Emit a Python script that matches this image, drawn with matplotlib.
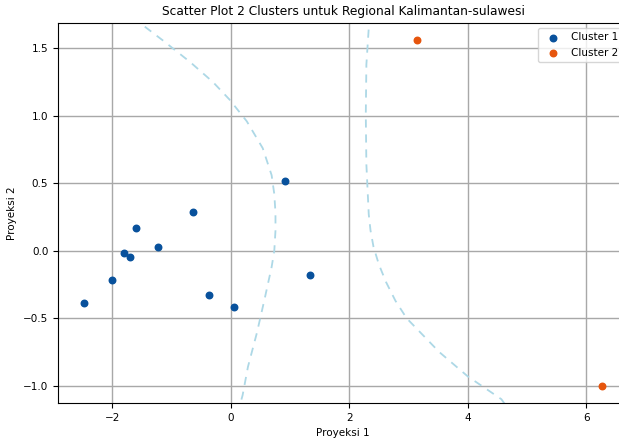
import numpy as np
import matplotlib
matplotlib.use('Agg')
from matplotlib import pyplot as plt

# titik hasil proyeksi tiap cluster
c1_x = [-2.48, -2.00, -1.80, -1.70, -1.60, -1.23, -0.64, -0.37, 0.05, 0.91, 1.33]
c1_y = [-0.39, -0.22, -0.015, -0.045, 0.17, 0.03, 0.29, -0.33, -0.42, 0.52, -0.18]
c2_x = [3.14, 6.27]
c2_y = [1.56, -1.00]

# garis batas
bl_x = [-1.60, -1.48, -1.15, -0.69, -0.30, -0.02, 0.27, 0.54, 0.69, 0.735, 0.755, 0.755, 0.735, 0.69, 0.57, 0.44, 0.29, 0.20, 0.15]
bl_y = [1.75, 1.67, 1.56, 1.40, 1.25, 1.12, 0.96, 0.76, 0.56, 0.42, 0.28, 0.15, 0.00, -0.12, -0.36, -0.61, -0.86, -1.07, -1.15]
br_x = [2.34, 2.33, 2.29, 2.28, 2.29, 2.33, 2.36, 2.41, 2.50, 2.62, 2.78, 2.97, 3.52, 4.00, 4.57, 4.65]
br_y = [1.75, 1.65, 1.38, 1.01, 0.64, 0.27, 0.15, 0.03, -0.10, -0.23, -0.37, -0.50, -0.75, -0.93, -1.10, -1.15]

fig = plt.figure(figsize=(6.19, 4.38), dpi=100)
ax = fig.add_axes([0.0937, 0.0799, 0.9208, 0.8676])

ax.scatter(c1_x, c1_y, s=22, color='#08519c', label='Cluster 1', zorder=3)
ax.scatter(c2_x, c2_y, s=22, color='#e6550d', label='Cluster 2', zorder=3)
ax.autoscale_view()
ax.set_xlim(ax.get_xlim())
ax.set_ylim(ax.get_ylim())

ax.plot(bl_x, bl_y, color='lightblue', lw=1.3, dashes=(4.5, 3.8), zorder=2)
ax.plot(br_x, br_y, color='lightblue', lw=1.3, dashes=(4.5, 3.8), zorder=2)

ax.grid(True, color='#a8a8a8', lw=1.0)
ax.set_axisbelow(True)
ax.tick_params(labelsize=7.5)
ax.set_title('Scatter Plot 2 Clusters untuk Regional Kalimantan-sulawesi', fontsize=8.8)
ax.set_xlabel('Proyeksi 1', fontsize=7.5)
ax.set_ylabel('Proyeksi 2', fontsize=7.5)
ax.legend(loc='upper right', fontsize=7.5)

fig.savefig('out.png', dpi=100)
